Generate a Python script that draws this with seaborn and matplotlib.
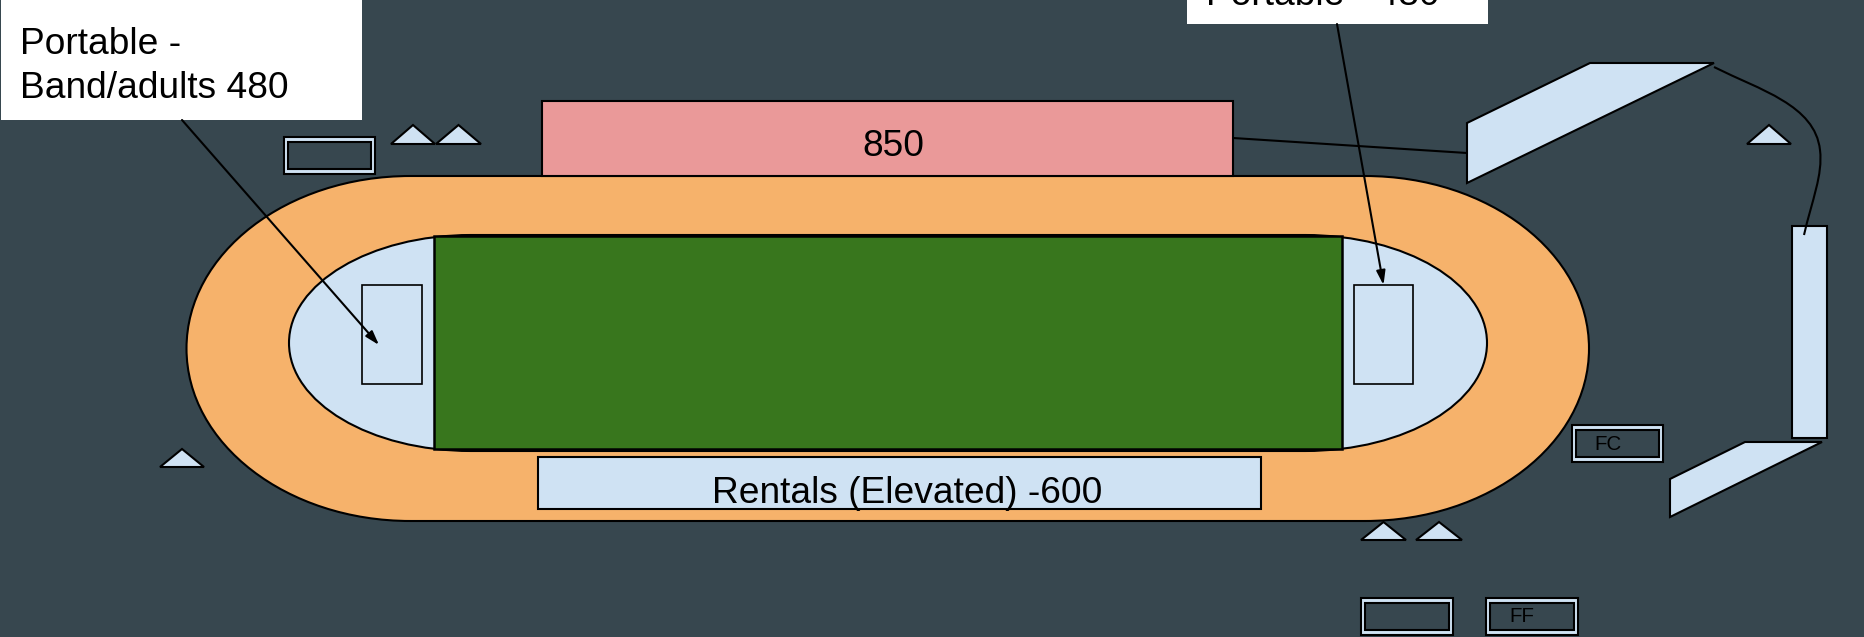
import matplotlib
matplotlib.use('Agg')
import matplotlib.pyplot as plt
import numpy as np
import seaborn as sns
from matplotlib.patches import PathPatch, Polygon, Rectangle
from matplotlib.path import Path

# labels
left_label = 'Portable -\nBand/adults 480'
right_label = 'Portable - 480'
stand_label = '850'
rentals_label = 'Rentals (Elevated) -600'
fc_label = 'FC'
ff_label = 'FF'

# colours
BG = '#37474F'
ORANGE = '#F6B26B'
PINK = '#EA9999'
BLUE = '#CFE2F3'
GREEN = '#38761D'

# shapes, in pixels of the original drawing (x0, y0, x1, y1)
TRACK = (186.5, 176, 1589, 521)
INFIELD = (289, 235, 1487, 451)
FIELD = (434, 236, 1342, 449)
STAND = (542, 101, 1233, 176)
RENTALS = (538, 457, 1261, 509)
PORTABLE_L = (362, 285, 422, 384)
PORTABLE_R = (1354, 285, 1413, 384)
TOWER = (1792, 226, 1827, 438)
LABEL_L = (1, -2, 362, 120)
LABEL_R = (1187, -2, 1488, 24)
BOOTHS = [(284, 137, 375, 174), (1572, 425, 1663, 462),
          (1361, 598, 1453, 635), (1486, 598, 1578, 635)]
TENTS = [(391, 435, 125, 144), (436, 481, 125, 144), (1747, 1791, 125, 144),
         (160, 204, 449, 467), (1361, 1406, 522, 540), (1416, 1462, 522, 540)]
RAMPS = [[(1467, 123), (1590, 63), (1714, 63), (1467, 183)],
         [(1670, 479), (1745, 442), (1822, 442), (1670, 517)]]

LINE_X = [1233, 1467]
LINE_Y = [138, 153]

LW = 1.5
FONT = 26.7


def rounded(box, rx, ry):
    # rectangle with elliptical corners
    x0, y0, x1, y1 = box
    k = 0.5523
    verts = [(x0 + rx, y0), (x1 - rx, y0),
             (x1 - rx + k * rx, y0), (x1, y0 + ry - k * ry), (x1, y0 + ry),
             (x1, y1 - ry),
             (x1, y1 - ry + k * ry), (x1 - rx + k * rx, y1), (x1 - rx, y1),
             (x0 + rx, y1),
             (x0 + rx - k * rx, y1), (x0, y1 - ry + k * ry), (x0, y1 - ry),
             (x0, y0 + ry),
             (x0, y0 + ry - k * ry), (x0 + rx - k * rx, y0), (x0 + rx, y0),
             (x0 + rx, y0)]
    codes = [Path.MOVETO, Path.LINETO,
             Path.CURVE4, Path.CURVE4, Path.CURVE4,
             Path.LINETO,
             Path.CURVE4, Path.CURVE4, Path.CURVE4,
             Path.LINETO,
             Path.CURVE4, Path.CURVE4, Path.CURVE4,
             Path.LINETO,
             Path.CURVE4, Path.CURVE4, Path.CURVE4,
             Path.CLOSEPOLY]
    return PathPatch(Path(verts, codes), lw=LW, ec='black', joinstyle='round')


def box(ax, b, color, lw=LW, z=3):
    x0, y0, x1, y1 = b
    ax.add_patch(Rectangle((x0, y0), x1 - x0, y1 - y0, fc=color, ec='black', lw=lw, zorder=z))


sns.set_theme(style='white')
plt.rcParams['font.family'] = ['Liberation Sans', 'DejaVu Sans']

fig, ax = plt.subplots(figsize=(18.65, 6.37), dpi=100)
fig.subplots_adjust(0, 0, 1, 1)
fig.patch.set_facecolor(BG)
ax.set_facecolor(BG)
ax.set_xlim(0, 1865)
ax.set_ylim(637, 0)
ax.axis('off')

track = rounded(TRACK, 224, 172.5)
track.set_facecolor(ORANGE)
track.set_zorder(1)
ax.add_patch(track)
infield = rounded(INFIELD, 182, 108)
infield.set_facecolor(BLUE)
infield.set_zorder(2)
ax.add_patch(infield)

box(ax, FIELD, GREEN, lw=1.8)
box(ax, STAND, PINK)
box(ax, RENTALS, BLUE)
box(ax, PORTABLE_L, BLUE, lw=1.2)
box(ax, PORTABLE_R, BLUE, lw=1.2)
box(ax, TOWER, BLUE)

for x0, y0, x1, y1 in BOOTHS:
    box(ax, (x0, y0, x1, y1), BLUE)
    box(ax, (x0 + 4, y0 + 4.5, x1 - 4, y1 - 5), BG, z=4)

for x0, x1, y0, y1 in TENTS:
    ax.add_patch(Polygon([(x0, y1), ((x0 + x1) / 2, y0), (x1, y1)], closed=True,
                         fc=BLUE, ec='black', lw=LW, zorder=3))
for r in RAMPS:
    ax.add_patch(Polygon(r, closed=True, fc=BLUE, ec='black', lw=LW, zorder=3))

# connector from the stand to the ramp
sns.lineplot(x=LINE_X, y=LINE_Y, color='black', lw=LW, sort=False, estimator=None, ax=ax, zorder=5)

# curved connector from the ramp to the tower
curve = Path([(1714, 67), (1760, 90), (1815, 105), (1820, 150), (1823, 175), (1812, 200), (1804, 235)],
             [Path.MOVETO, Path.CURVE4, Path.CURVE4, Path.CURVE4, Path.CURVE4, Path.CURVE4, Path.CURVE4])
ax.add_patch(PathPatch(curve, fc='none', ec='black', lw=LW, zorder=5))

# label boxes are drawn without outline, arrows start at their edge
for b in (LABEL_L, LABEL_R):
    ax.add_patch(Rectangle((b[0], b[1]), b[2] - b[0], b[3] - b[1], fc='white', ec='none', zorder=6))
arrow = dict(arrowstyle='-|>,head_length=0.7,head_width=0.22', color='black', lw=LW, shrinkA=0, shrinkB=0)
ax.annotate('', xy=(379, 345), xytext=(182, 120), arrowprops=arrow, zorder=7)
ax.annotate('', xy=(1383.5, 285), xytext=(1337, 24), arrowprops=arrow, zorder=7)

ax.text(20, 66.5, left_label, fontsize=FONT, va='center', ha='left', color='#000000', linespacing=1.3, zorder=8)
ax.text(1206, 5, right_label, fontsize=FONT, va='baseline', ha='left', color='#000000', zorder=8, clip_on=True)
ax.text(893, 146.5, stand_label, fontsize=FONT, va='center', ha='center', color='#000000', zorder=8)
ax.text(907, 493.5, rentals_label, fontsize=FONT, va='center', ha='center', color='#000000', zorder=8)
ax.text(1608, 444, fc_label, fontsize=14.8, va='center', ha='center', color='#000000', zorder=8)
ax.text(1522, 617, ff_label, fontsize=14.8, va='center', ha='center', color='#000000', zorder=8)

fig.savefig('out.png', dpi=100, facecolor=BG)
